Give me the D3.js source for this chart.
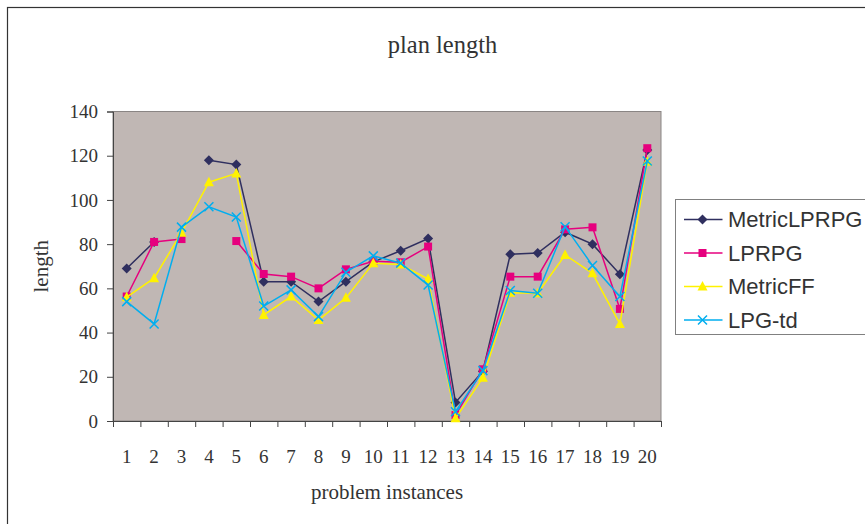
<!DOCTYPE html>
<html>
<head>
<meta charset="utf-8" />
<title>plan length</title>
<script src="https://cdn.jsdelivr.net/npm/d3@7"></script>
<style>
    body { margin: 0; background: #fff; }
    .axis text { font-family: "Liberation Serif", serif; font-size: 19px; fill: #333; }
    .axis path, .axis line { stroke: #444; }
    .legend text { font-family: "Liberation Sans", sans-serif; font-size: 22px; fill: #333; }
</style>
</head>
<body>
<script>

    let instances = d3.range(1, 21).map(String);
    let yTicks = [0, 20, 40, 60, 80, 100, 120, 140];

    let metricLPRPG = [69, 81, null, 118, 116, 63, 63, 54, 63, 72, 77, 82.5, 8.4, 22.5, 75.4, 76, 85.4, 80, 66.4, 122.6];
    let lprpg = [56.3, 81, 82.3, null, 81.4, 66.5, 65.3, 60, 68.6, 72.3, 71.8, 78.9, 2.7, 23.4, 65.3, 65.3, 86.7, 87.6, 50.7, 123.4];
    let metricFF = [56, 64.6, 85.2, 108, 112, 48, 56.3, 45.7, 55.7, 71.4, 70.8, 64.2, 1.2, 19.6, 58, 57.8, 75.1, 66.8, 43.9, 117.3];
    let lpgTd = [54, 43.9, 87.7, 96.9, 92.3, 52, 59.3, 47.2, 67.3, 74.7, 71.4, 61.5, 4.2, 22.8, 59, 57.8, 87.9, 70.3, 56.3, 117.6];

    let series = [
        { name: 'MetricLPRPG', values: metricLPRPG, color: '#2f2f5f', marker: 'diamond' },
        { name: 'LPRPG', values: lprpg, color: '#e6007e', marker: 'square' },
        { name: 'MetricFF', values: metricFF, color: '#fff200', marker: 'triangle' },
        { name: 'LPG-td', values: lpgTd, color: '#00aeef', marker: 'cross' }
    ];

    let plot = { left: 113, right: 661, top: 111.5, bottom: 421 };

    let svg = d3.select('body').append('svg')
        .attr('width', 865)
        .attr('height', 524);

    // outer chart frame
    svg.append('rect')
        .attr('x', 7.5).attr('y', 7.5)
        .attr('width', 900).attr('height', 560)
        .attr('fill', 'none')
        .attr('stroke', '#333')
        .attr('stroke-width', 1.2);

    let x = d3.scaleBand()
        .domain(instances)
        .range([plot.left, plot.right]);

    let xEdges = d3.scaleLinear()
        .domain([0, instances.length])
        .range([plot.left, plot.right]);

    let y = d3.scaleLinear()
        .domain([0, 140])
        .range([plot.bottom, plot.top]);

    // grey plot area
    svg.append('rect')
        .attr('x', plot.left).attr('y', plot.top)
        .attr('width', plot.right - plot.left)
        .attr('height', plot.bottom - plot.top)
        .attr('fill', '#c0b7b4')
        .attr('stroke', '#8a8584')
        .attr('stroke-width', 1);

    // y axis
    svg.append('g')
        .attr('class', 'axis')
        .attr('transform', `translate(${plot.left},0)`)
        .call(d3.axisLeft(y).tickValues(yTicks).tickSize(6).tickPadding(9));

    // x axis: ticks between instances, labels centered
    svg.append('g')
        .attr('class', 'axis')
        .attr('transform', `translate(0,${plot.bottom})`)
        .call(d3.axisBottom(xEdges).tickValues(d3.range(instances.length + 1)).tickSize(6).tickFormat(''));

    svg.append('g')
        .attr('class', 'axis')
        .attr('transform', `translate(0,${plot.bottom})`)
        .call(d3.axisBottom(x).tickSize(0).tickPadding(28.5))
        .call(g => g.select('.domain').remove());

    // titles
    svg.append('text')
        .attr('x', 442.5).attr('y', 53)
        .attr('text-anchor', 'middle')
        .style('font-family', '"Liberation Serif", serif')
        .style('font-size', '24.5px')
        .style('fill', '#333')
        .text('plan length');

    svg.append('text')
        .attr('x', (plot.left + plot.right) / 2).attr('y', 499)
        .attr('text-anchor', 'middle')
        .style('font-family', '"Liberation Serif", serif')
        .style('font-size', '21px')
        .style('fill', '#333')
        .text('problem instances');

    svg.append('text')
        .attr('transform', `translate(48,${(plot.top + plot.bottom) / 2}) rotate(-90)`)
        .attr('text-anchor', 'middle')
        .style('font-family', '"Liberation Serif", serif')
        .style('font-size', '21px')
        .style('fill', '#333')
        .text('length');

    // marker drawing
    function drawMarker(g, type, color) {
        if (type === 'diamond') {
            g.append('path').attr('d', 'M0,-5 L5,0 L0,5 L-5,0 Z').attr('fill', color);
        } else if (type === 'square') {
            g.append('rect').attr('x', -4).attr('y', -4).attr('width', 8).attr('height', 8).attr('fill', color);
        } else if (type === 'triangle') {
            g.append('path').attr('d', 'M0,-5.5 L5,4 L-5,4 Z').attr('fill', color);
        } else {
            g.append('path').attr('d', 'M-4.5,-4.5 L4.5,4.5 M-4.5,4.5 L4.5,-4.5')
                .attr('stroke', color).attr('stroke-width', 1.5).attr('fill', 'none');
        }
    }

    let line = d3.line()
        .defined(d => d != null)
        .x((d, i) => x(instances[i]) + x.bandwidth() / 2)
        .y(d => y(d));

    series.forEach(s => {
        let g = svg.append('g');

        g.append('path')
            .attr('d', line(s.values))
            .attr('fill', 'none')
            .attr('stroke', s.color)
            .attr('stroke-width', 1.5);

        g.selectAll('.pt')
            .data(s.values.map((v, i) => ({ v, i })).filter(d => d.v != null))
            .enter().append('g')
            .attr('transform', d => `translate(${x(instances[d.i]) + x.bandwidth() / 2},${y(d.v)})`)
            .each(function () { drawMarker(d3.select(this), s.marker, s.color); });
    });

    // legend
    let legend = svg.append('g')
        .attr('class', 'legend')
        .attr('transform', 'translate(675.5,199.5)');

    legend.append('rect')
        .attr('width', 220).attr('height', 135)
        .attr('fill', '#fff')
        .attr('stroke', '#808080');

    let item = legend.selectAll('.item')
        .data(series)
        .enter().append('g')
        .attr('class', 'item')
        .attr('transform', (d, i) => `translate(0,${20 + i * 33.5})`);

    item.append('line')
        .attr('x1', 8.5).attr('x2', 47)
        .attr('stroke', d => d.color)
        .attr('stroke-width', 1.5);

    item.append('g')
        .attr('transform', 'translate(27,0)')
        .each(function (d) { drawMarker(d3.select(this), d.marker, d.color); });

    item.append('text')
        .attr('x', 52.5)
        .attr('dy', '0.35em')
        .text(d => d.name);

</script>
</body>
</html>
